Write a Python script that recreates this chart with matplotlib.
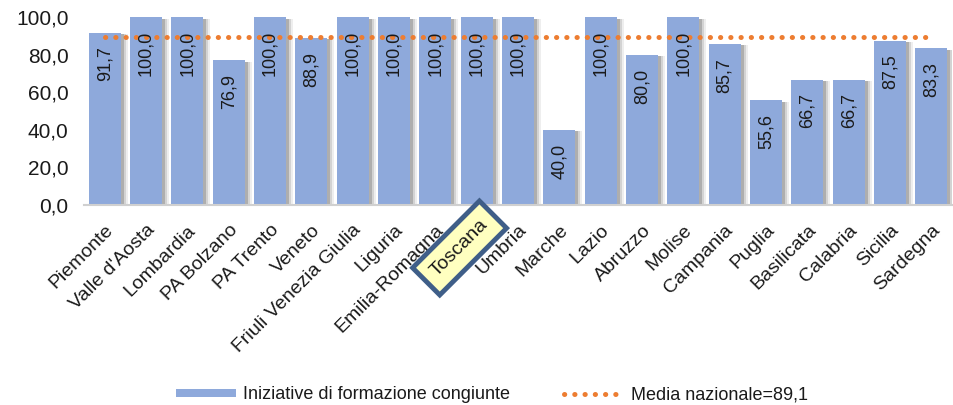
import matplotlib
matplotlib.use("Agg")
import matplotlib.pyplot as plt
from matplotlib.patches import Patch
from matplotlib.lines import Line2D

plt.rcParams['font.family'] = ['Liberation Sans', 'DejaVu Sans']

regioni = ["Piemonte", "Valle d'Aosta", "Lombardia", "PA Bolzano", "PA Trento",
           "Veneto", "Friuli Venezia Giulia", "Liguria", "Emilia-Romagna", "Toscana",
           "Umbria", "Marche", "Lazio", "Abruzzo", "Molise", "Campania", "Puglia",
           "Basilicata", "Calabria", "Sicilia", "Sardegna"]
valori = [91.7, 100.0, 100.0, 76.9, 100.0, 88.9, 100.0, 100.0, 100.0, 100.0,
          100.0, 40.0, 100.0, 80.0, 100.0, 85.7, 55.6, 66.7, 66.7, 87.5, 83.3]
media_nazionale = 89.1
y_ticks = [0, 20, 40, 60, 80, 100]
y_tick_labels = ["0,0", "20,0", "40,0", "60,0", "80,0", "100,0"]
evidenziata = "Toscana"

BAR = '#8EA9DB'
ORANGE = '#ED7D31'
TXT = '#1a1a1a'

fig = plt.figure(figsize=(9.54, 4.05), dpi=100)
ax = fig.add_axes([84/954, 1-205/405, (952-84)/954, (205-17)/405])

x = list(range(len(regioni)))
w = 0.78
# shadow layers
for off, a in [(0.17, 0.10), (0.12, 0.18), (0.07, 0.30)]:
    ax.bar([i + off for i in x], [v - 0.8 for v in valori], width=w, color='#5a5a5a',
           alpha=a, zorder=1, linewidth=0)
ax.bar(x, valori, width=w, color=BAR, zorder=2, linewidth=0)

for i, v in zip(x, valori):
    lab = f"{v:.1f}".replace('.', ',')
    ax.annotate(lab, xy=(i, v), xytext=(0, -10), textcoords='offset points',
                rotation=90, ha='center', va='top', fontsize=13, color=TXT, zorder=5)

ax.plot(x, [media_nazionale] * len(x), color=ORANGE, lw=3.6,
        linestyle=(0, (0.05, 2.0)), dash_capstyle='round', zorder=4)

ax.set_xlim(-0.5, len(regioni) - 0.5)
ax.set_ylim(0, 100)
ax.set_yticks(y_ticks)
ax.set_yticklabels(y_tick_labels, fontsize=15, color=TXT)
ax.tick_params(axis='y', length=0, pad=11)
ax.set_xticks(x)
ax.set_xticklabels([("" if r == evidenziata else r) for r in regioni],
                   rotation=45, ha='right', va='top', rotation_mode='anchor',
                   fontsize=14, color=TXT)
ax.tick_params(axis='x', length=0, pad=12)
for s in ['top', 'right', 'left']:
    ax.spines[s].set_visible(False)
ax.spines['bottom'].set_color('#D0D0D0')
ax.spines['bottom'].set_linewidth(1.5)

idx = regioni.index(evidenziata)
ax.annotate(evidenziata, xy=(idx, 0), xycoords=('data', 'axes fraction'),
            xytext=(2, -8), textcoords='offset points', rotation=45,
            ha='right', va='top', rotation_mode='anchor', fontsize=14, color=TXT,
            bbox=dict(boxstyle='square,pad=0.55', facecolor='#FFFFC0',
                      edgecolor='#3F5E88', linewidth=3.5),
            zorder=20, annotation_clip=False)

handles = [Patch(facecolor=BAR, edgecolor='none'),
           Line2D([0], [0], color=ORANGE, lw=3.6, linestyle=(0, (0.05, 2.0)),
                  dash_capstyle='round')]
fig.legend(handles, ["Iniziative di formazione congiunte", "Media nazionale=89,1"],
           loc='center', bbox_to_anchor=(0.516, 0.025), ncol=2, frameon=False,
           fontsize=13, handlelength=3.3, handleheight=0.28, handletextpad=0.4,
           columnspacing=3.0, labelcolor=TXT)

fig.savefig('out.png', dpi=100)
